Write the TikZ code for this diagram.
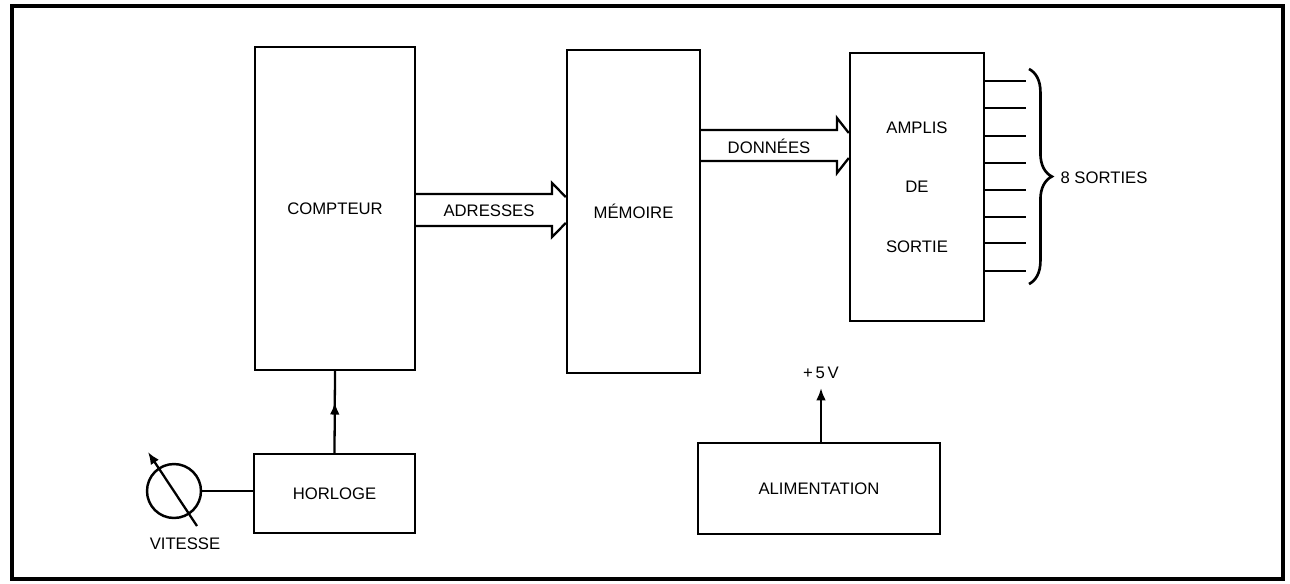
\documentclass[tikz,border=0pt]{standalone}
\usepackage{fontspec}
\setmainfont{Liberation Sans}
\usetikzlibrary{arrows.meta,calc,decorations.pathreplacing,decorations.markings}

\tikzset{
    blk/.style={draw, rectangle, line width=1.4pt, inner sep=0pt,
        font=\fontsize{9.5}{11}\selectfont},
    wire/.style={line width=1.3pt},
    tip/.style={-{Latex[length=7pt,width=5.5pt]}},
    midtip/.style={postaction={decorate}, decoration={markings,
        mark=at position 0.62 with {\arrow{Latex[length=7pt,width=5.5pt]}}}},
    lbl/.style={font=\fontsize{9.5}{11}\selectfont, inner sep=1pt},
}

\begin{document}
\begin{tikzpicture}[x=0.02cm, y=-0.02cm]

    % Frame
    \useasboundingbox (0,0) rectangle (1290,583);
    \draw[line width=2.4pt] (12,6) rectangle (1283,579);

    % Blocks
    \node[blk, minimum width=3.2cm, minimum height=6.46cm] (cpt) at (335,208.5) {COMPTEUR};
    \node[blk, minimum width=2.66cm, minimum height=6.46cm] (mem) at (633.5,211.5) {MÉMOIRE};
    \node[blk, minimum width=2.68cm, minimum height=5.36cm, align=center] (amp) at (917,187)
        {AMPLIS\\[23pt] DE\\[23pt] SORTIE};
    \node[blk, minimum width=3.22cm, minimum height=1.58cm] (hor) at (334.5,493.5) {HORLOGE};
    \node[blk, minimum width=4.84cm, minimum height=1.82cm] (ali) at (819,488.5) {ALIMENTATION};

    % Address bus
    \draw[wire] (cpt.east |- 0,194) -- (552,194) -- (552,183) -- (mem.west |- 0,197);
    \draw[wire] (cpt.east |- 0,226) -- (552,226) -- (552,237) -- (mem.west |- 0,223);
    \node[lbl] (adr) at (489,211) {ADRESSES};

    % Data bus
    \draw[wire] (mem.east |- 0,130) -- (837,130) -- (837,118) -- (amp.west |- 0,133);
    \draw[wire] (mem.east |- 0,161) -- (837,161) -- (837,173) -- (amp.west |- 0,158);
    \node[lbl] (don) at (769,146) {DONNÉES};

    % Outputs
    \foreach \y in {81,108,136,163,190,217,243,271}
        \draw[wire] (amp.east |- 0,\y) -- ++(41,0);
    \draw[line width=1.5pt, decorate, decoration={brace, amplitude=13pt}]
        (1029,69) -- (1029,284);
    \node[lbl] (sor) at (1104,178) {8 SORTIES};

    % Clock
    \node[draw, circle, line width=1.4pt, minimum size=1.08cm, inner sep=0pt] (pot) at (174,491) {};
    \draw[wire] (pot.east) -- (pot.east -| hor.west);
    \draw[wire, tip] ($(pot.center)+(23,35)$) -- ($(pot.center)+(-26,-39)$);
    \node[lbl] (vit) at (185,544) {VITESSE};
    \draw[wire, midtip] (hor.north) -- (cpt.south);

    % Supply
    \coordinate (vcc) at (821,388);
    \draw[wire, tip] (ali.north -| vcc) -- (vcc);
    \node[lbl] (vlbl) at (821,373) {+\,5\,V};

\end{tikzpicture}
\end{document}
